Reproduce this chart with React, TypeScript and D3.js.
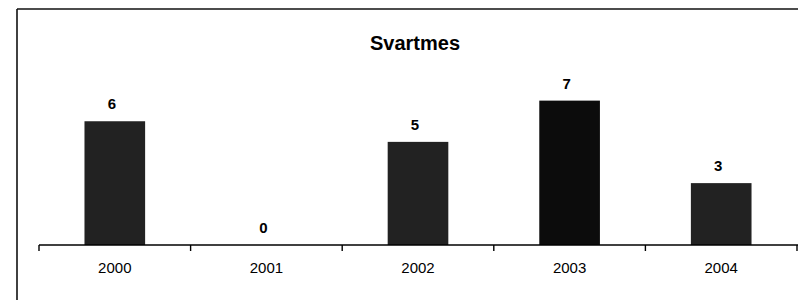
import React from 'react';
import * as d3 from 'd3';

const years = ['2000', '2001', '2002', '2003', '2004'];
const counts = [6, 0, 5, 7, 3];
const title = 'Svartmes';

const width = 798;
const height = 300;
const margin = { top: 80, right: 1, bottom: 55, left: 39 };

const App = () => {
  const x = d3
    .scaleBand<string>()
    .domain(years)
    .range([margin.left, width - margin.right])
    .paddingInner(0.6)
    .paddingOuter(0.3);

  const y = d3
    .scaleLinear()
    .domain([0, 8])
    .range([height - margin.bottom, margin.top]);

  const base = y(0);
  const step = x.step();
  const start = margin.left;
  // tick marks sit between the categories, not in their middle
  const tickXs = d3.range(years.length + 1).map((i) => start + i * step);

  const font = 'Arial, "Liberation Sans", sans-serif';

  return (
    <svg
      width={width}
      height={height}
      style={{ position: 'absolute', left: 0, top: 0, background: 'white' }}
    >
      {/* frame */}
      <line x1={17} y1={9} x2={width} y2={9} stroke="#111" strokeWidth={1.6} />
      <line x1={17} y1={9} x2={17} y2={height} stroke="#111" strokeWidth={1.6} />

      <text
        x={415}
        y={50}
        textAnchor="middle"
        fontFamily={font}
        fontWeight="bold"
        fontSize={20}
        fill="#000"
      >
        {title}
      </text>

      {years.map((yr, i) => (
        <rect
          key={yr}
          x={x(yr)}
          y={y(counts[i])}
          width={x.bandwidth()}
          height={base - y(counts[i])}
          fill={counts[i] === 7 ? '#0c0c0c' : '#222'}
        />
      ))}

      {years.map((yr, i) => (
        <text
          key={'v' + yr}
          x={(x(yr) ?? 0) + x.bandwidth() / 2 - 3}
          y={y(counts[i]) - 12}
          textAnchor="middle"
          fontFamily={font}
          fontWeight="bold"
          fontSize={15}
          fill="#000"
        >
          {counts[i]}
        </text>
      ))}

      {/* x axis */}
      <line x1={start} y1={base} x2={width} y2={base} stroke="#000" strokeWidth={1.4} />
      {tickXs.map((tx, i) => (
        <line key={'t' + i} x1={tx} y1={base} x2={tx} y2={base + 6} stroke="#000" strokeWidth={1.4} />
      ))}
      {years.map((yr) => (
        <text
          key={'l' + yr}
          x={(x(yr) ?? 0) + x.bandwidth() / 2}
          y={base + 28}
          textAnchor="middle"
          fontFamily={font}
          fontSize={15}
          fill="#000"
        >
          {yr}
        </text>
      ))}
    </svg>
  );
};

export default App;
